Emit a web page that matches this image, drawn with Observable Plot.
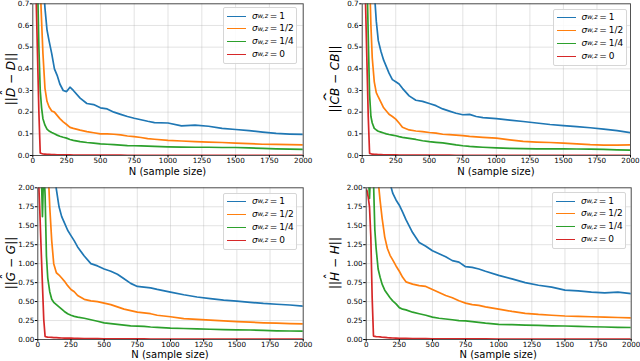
<!DOCTYPE html>
<html><head><meta charset="utf-8">
<script src="https://cdn.jsdelivr.net/npm/d3@7"></script>
<script src="https://cdn.jsdelivr.net/npm/@observablehq/plot@0.6"></script>
<style>
body{margin:0;background:#fff;font-family:"DejaVu Sans",sans-serif}
#wrap{position:relative;width:640px;height:361px;overflow:hidden;background:#fff}
#wrap svg{position:absolute}
.xl{position:absolute;font-size:10px;transform:translate(-50%,-50%);white-space:nowrap;line-height:1}
.yl{position:absolute;font-size:12px;transform:translate(-50%,-50%) rotate(-90deg);white-space:nowrap;line-height:1}
.hat{position:relative;display:inline-block;font-style:italic}
.hat::after{content:"\02C6";position:absolute;left:50%;top:-0.45em;transform:translateX(-50%);font-style:normal}
.hat.wide::after{transform:translateX(-50%) scaleX(2.2)}
.leg{position:absolute;width:74px;height:57px;border:1px solid #d6d6d6;border-radius:2px;background:rgba(255,255,255,0.85);box-sizing:border-box;font-size:9px}
.row{position:absolute;left:3px;height:12px;display:flex;align-items:center;white-space:nowrap;line-height:1}
.sw{width:19px;height:0;margin-right:6px}
.row sub{font-size:0.72em;vertical-align:-0.3em}
</style></head><body><div id="wrap"></div>
<script>
// sample sizes at which the curves were read
const sampleN = [5, 15, 25, 35, 45, 55, 65, 75, 90, 105, 120, 140, 160, 180, 200, 225, 250, 275, 300, 350, 400, 450, 500, 550, 600, 650, 700, 750, 800, 850, 900, 1000, 1100, 1200, 1300, 1400, 1500, 1600, 1700, 1800, 1900, 2000];
const seriesLabels = ["1", "1/2", "1/4", "0"];
const seriesColors = ["#1f77b4", "#ff7f0e", "#2ca02c", "#d62728"];
const xTicks = [0, 250, 500, 750, 1000, 1250, 1500, 1750, 2000];
const yTicksTop = [0, 0.1, 0.2, 0.3, 0.4, 0.5, 0.6, 0.7];
const yTicksBottom = [0, 0.25, 0.5, 0.75, 1, 1.25, 1.5, 1.75, 2];

// ||D^ - D||
const dBlue = [3.0, 2.5, 2.0, 1.6, 1.3, 1.1, 0.95, 0.82, 0.68, 0.58, 0.53, 0.47, 0.40, 0.37, 0.33, 0.30, 0.295, 0.315, 0.30, 0.265, 0.24, 0.235, 0.22, 0.215, 0.20, 0.19, 0.18, 0.172, 0.165, 0.158, 0.152, 0.15, 0.137, 0.14, 0.135, 0.125, 0.12, 0.115, 0.108, 0.102, 0.099, 0.097];
const dOrange = [3.0, 2.2, 1.6, 1.2, 0.95, 0.78, 0.62, 0.47, 0.31, 0.25, 0.225, 0.205, 0.20, 0.185, 0.17, 0.155, 0.143, 0.13, 0.125, 0.117, 0.11, 0.105, 0.1, 0.1, 0.098, 0.095, 0.09, 0.087, 0.083, 0.078, 0.075, 0.07, 0.067, 0.064, 0.062, 0.06, 0.057, 0.055, 0.052, 0.051, 0.05, 0.049];
const dGreen = [2.5, 1.6, 1.1, 0.8, 0.5, 0.3, 0.22, 0.17, 0.14, 0.122, 0.113, 0.106, 0.1, 0.094, 0.089, 0.084, 0.08, 0.074, 0.07, 0.064, 0.06, 0.057, 0.054, 0.052, 0.05, 0.048, 0.046, 0.045, 0.044, 0.043, 0.042, 0.04, 0.039, 0.038, 0.038, 0.037, 0.037, 0.035, 0.033, 0.031, 0.029, 0.028];
const dRed = [1.4, 1.0, 0.72, 0.46, 0.2, 0.012, 0.009, 0.007, 0.006, 0.005, 0.005, 0.004, 0.004, 0.0035, 0.003, 0.003, 0.0028, 0.0025, 0.0024, 0.002, 0.002, 0.0018, 0.0016, 0.0015, 0.0014, 0.0013, 0.0012, 0.0012, 0.0011, 0.0011, 0.001, 0.001, 0.001, 0.001, 0.001, 0.0009, 0.0009, 0.0009, 0.0008, 0.0008, 0.0008, 0.0008];

// ||CB^ - CB||
const cbBlue = [3.0, 2.6, 2.2, 1.9, 1.6, 1.35, 1.15, 0.98, 0.76, 0.62, 0.53, 0.48, 0.44, 0.41, 0.38, 0.35, 0.34, 0.33, 0.31, 0.275, 0.255, 0.25, 0.24, 0.23, 0.215, 0.205, 0.195, 0.188, 0.19, 0.18, 0.175, 0.17, 0.163, 0.157, 0.15, 0.143, 0.138, 0.133, 0.128, 0.122, 0.115, 0.105];
const cbOrange = [3.0, 2.3, 1.8, 1.4, 1.1, 0.82, 0.6, 0.45, 0.34, 0.29, 0.27, 0.245, 0.22, 0.205, 0.19, 0.18, 0.168, 0.15, 0.13, 0.118, 0.113, 0.11, 0.106, 0.103, 0.098, 0.096, 0.094, 0.092, 0.088, 0.086, 0.084, 0.08, 0.072, 0.065, 0.062, 0.06, 0.057, 0.054, 0.05, 0.048, 0.048, 0.049];
const cbGreen = [2.6, 1.7, 1.2, 0.85, 0.55, 0.28, 0.18, 0.15, 0.125, 0.118, 0.112, 0.108, 0.104, 0.1, 0.097, 0.094, 0.091, 0.087, 0.084, 0.079, 0.074, 0.068, 0.064, 0.061, 0.058, 0.054, 0.049, 0.045, 0.042, 0.04, 0.038, 0.035, 0.033, 0.032, 0.031, 0.031, 0.031, 0.03, 0.029, 0.028, 0.026, 0.025];
const cbRed = [1.4, 1.0, 0.7, 0.44, 0.18, 0.01, 0.008, 0.006, 0.005, 0.005, 0.004, 0.004, 0.0035, 0.003, 0.003, 0.0028, 0.0026, 0.0024, 0.0022, 0.002, 0.0018, 0.0017, 0.0016, 0.0015, 0.0014, 0.0013, 0.0012, 0.0012, 0.0011, 0.0011, 0.001, 0.001, 0.001, 0.001, 0.0009, 0.0009, 0.0009, 0.0008, 0.0008, 0.0008, 0.0008, 0.0008];

// ||G^ - G||
const gBlue = [9, 8, 7, 6, 5, 4.2, 3.6, 3.1, 2.7, 2.45, 2.25, 1.98, 1.75, 1.62, 1.54, 1.44, 1.37, 1.30, 1.22, 1.1, 1.0, 0.97, 0.93, 0.9, 0.86, 0.8, 0.74, 0.70, 0.69, 0.68, 0.66, 0.625, 0.59, 0.56, 0.54, 0.52, 0.505, 0.49, 0.475, 0.465, 0.455, 0.44];
const gOrange = [8, 7, 6, 5, 4, 3.3, 2.8, 2.35, 1.75, 1.3, 1.0, 0.88, 0.85, 0.81, 0.77, 0.71, 0.66, 0.63, 0.58, 0.53, 0.51, 0.5, 0.48, 0.46, 0.43, 0.40, 0.38, 0.36, 0.35, 0.34, 0.32, 0.30, 0.275, 0.265, 0.255, 0.245, 0.235, 0.228, 0.22, 0.215, 0.21, 0.205];
const gGreen = [5, 3.5, 2.3, 1.62, 2.3, 1.9, 1.1, 0.81, 0.63, 0.53, 0.49, 0.46, 0.43, 0.40, 0.37, 0.34, 0.32, 0.305, 0.295, 0.28, 0.26, 0.24, 0.22, 0.21, 0.2, 0.19, 0.18, 0.177, 0.172, 0.165, 0.16, 0.15, 0.145, 0.14, 0.135, 0.13, 0.128, 0.125, 0.12, 0.115, 0.112, 0.11];
const gRed = [2.15, 1.7, 1.2, 0.72, 0.26, 0.04, 0.034, 0.031, 0.03, 0.028, 0.026, 0.024, 0.022, 0.02, 0.019, 0.018, 0.017, 0.016, 0.015, 0.013, 0.012, 0.011, 0.01, 0.0095, 0.009, 0.0085, 0.008, 0.0075, 0.007, 0.0068, 0.0065, 0.006, 0.0058, 0.0055, 0.0053, 0.005, 0.0048, 0.0046, 0.0044, 0.0042, 0.004, 0.004];

// ||H^ - H||
const hBlue = [10, 9, 8, 7, 6, 5.5, 5, 4.5, 3.9, 3.4, 3.0, 2.6, 2.3, 2.06, 1.93, 1.84, 1.77, 1.68, 1.58, 1.41, 1.28, 1.23, 1.17, 1.13, 1.09, 1.04, 1.02, 0.96, 0.95, 0.93, 0.9, 0.845, 0.8, 0.75, 0.715, 0.69, 0.65, 0.64, 0.625, 0.615, 0.625, 0.605];
const hOrange = [8, 7, 6, 5, 4, 3.4, 2.9, 2.5, 2.1, 1.83, 1.6, 1.35, 1.2, 1.11, 1.05, 0.97, 0.9, 0.82, 0.76, 0.73, 0.71, 0.70, 0.66, 0.62, 0.58, 0.55, 0.51, 0.48, 0.46, 0.45, 0.43, 0.40, 0.37, 0.345, 0.33, 0.32, 0.31, 0.305, 0.30, 0.295, 0.29, 0.285];
const hGreen = [2.4, 2.25, 1.86, 2.3, 2.5, 2.1, 1.45, 1.2, 0.93, 0.82, 0.73, 0.65, 0.6, 0.55, 0.51, 0.47, 0.42, 0.40, 0.39, 0.36, 0.34, 0.32, 0.295, 0.28, 0.27, 0.26, 0.25, 0.245, 0.235, 0.225, 0.215, 0.20, 0.195, 0.19, 0.185, 0.18, 0.178, 0.172, 0.168, 0.165, 0.16, 0.158];
const hRed = [1.97, 1.88, 1.75, 1.35, 0.55, 0.045, 0.04, 0.038, 0.036, 0.034, 0.03, 0.027, 0.024, 0.022, 0.02, 0.018, 0.016, 0.015, 0.014, 0.013, 0.012, 0.011, 0.01, 0.0095, 0.009, 0.0085, 0.008, 0.0078, 0.0075, 0.0072, 0.007, 0.0068, 0.0065, 0.0062, 0.006, 0.0058, 0.0056, 0.0054, 0.0052, 0.005, 0.005, 0.005];

const yLabels = [
  '||<span class="hat">D</span> − <i>D</i>||',
  '||<span class="hat wide">CB</span> − <i>CB</i>||',
  '||<span class="hat">G</span> − <i>G</i>||',
  '||<span class="hat">H</span> − <i>H</i>||'
];

const panels = [
  {left: 0, top: 0, w: 320, h: 180, ml: 32.3, mr: 17.3, mt: 3.3, mb: 25, ymax: 0.7, ticks: yTicksTop, fmt: ".1f", vals: [dBlue, dOrange, dGreen, dRed], ylab: yLabels[0], ylx: 11, xly: 172, leg: [223, 7]},
  {left: 320, top: 0, w: 320, h: 180, ml: 41.7, mr: 10, mt: 3.3, mb: 25, ymax: 0.7, ticks: yTicksTop, fmt: ".1f", vals: [cbBlue, cbOrange, cbGreen, cbRed], ylab: yLabels[1], ylx: 335, xly: 172, leg: [552.5, 8.5]},
  {left: 0, top: 180, w: 320, h: 181, ml: 37.3, mr: 17.3, mt: 7.3, mb: 22, ymax: 2, ticks: yTicksBottom, fmt: ".2f", vals: [gBlue, gOrange, gGreen, gRed], ylab: yLabels[2], ylx: 11, xly: 354.5, leg: [223, 192.5]},
  {left: 320, top: 180, w: 320, h: 181, ml: 45.7, mr: 9.3, mt: 7.3, mb: 22, ymax: 2, ticks: yTicksBottom, fmt: ".2f", vals: [hBlue, hOrange, hGreen, hRed], ylab: yLabels[3], ylx: 335, xly: 354.5, leg: [552, 192]}
];

const wrap = document.getElementById("wrap");

panels.forEach(p => {
  const rows = [];
  p.vals.forEach((arr, i) => arr.forEach((v, j) => rows.push({N: sampleN[j], v, s: seriesLabels[i]})));
  const svg = Plot.plot({
    width: p.w, height: p.h,
    marginLeft: p.ml, marginRight: p.mr, marginTop: p.mt, marginBottom: p.mb,
    style: {fontFamily: "DejaVu Sans", fontSize: "7.2px", color: "#000", background: "transparent"},
    x: {domain: [0, 2000]},
    y: {domain: [0, p.ymax]},
    color: {domain: seriesLabels, range: seriesColors},
    marks: [
      Plot.gridX({ticks: xTicks, stroke: "#b0b0b0", strokeOpacity: 0.45, strokeWidth: 0.8}),
      Plot.gridY({ticks: p.ticks, stroke: "#b0b0b0", strokeOpacity: 0.45, strokeWidth: 0.8}),
      Plot.line(rows, {x: "N", y: "v", stroke: "s", z: "s", strokeWidth: 1.7, clip: true}),
      Plot.frame({stroke: "#444", strokeWidth: 0.9}),
      Plot.axisX({ticks: xTicks, tickFormat: "d", tickSize: 2.5, tickPadding: 0, label: null}),
      Plot.axisY({ticks: p.ticks, tickFormat: d3.format(p.fmt), tickSize: 2.5, tickPadding: 1, label: null})
    ]
  });
  svg.style.left = p.left + "px";
  svg.style.top = p.top + "px";
  wrap.appendChild(svg);

  const xl = document.createElement("div");
  xl.className = "xl";
  xl.textContent = "N (sample size)";
  xl.style.left = (p.left + (p.ml + p.w - p.mr) / 2) + "px";
  xl.style.top = p.xly + "px";
  wrap.appendChild(xl);

  const yl = document.createElement("div");
  yl.className = "yl";
  yl.innerHTML = p.ylab;
  yl.style.left = p.ylx + "px";
  yl.style.top = (p.top + (p.mt + p.h - p.mb) / 2) + "px";
  wrap.appendChild(yl);

  const leg = document.createElement("div");
  leg.className = "leg";
  leg.style.left = p.leg[0] + "px";
  leg.style.top = p.leg[1] + "px";
  seriesLabels.forEach((lab, i) => {
    const r = document.createElement("div");
    r.className = "row";
    r.style.top = (2 + 12.9 * i) + "px";
    r.innerHTML = `<span class="sw" style="border-top:1.8px solid ${seriesColors[i]}"></span><i>σ</i><sub><i>w,z</i></sub>&thinsp;=&thinsp;${lab}`;
    leg.appendChild(r);
  });
  wrap.appendChild(leg);
});
</script></body></html>
